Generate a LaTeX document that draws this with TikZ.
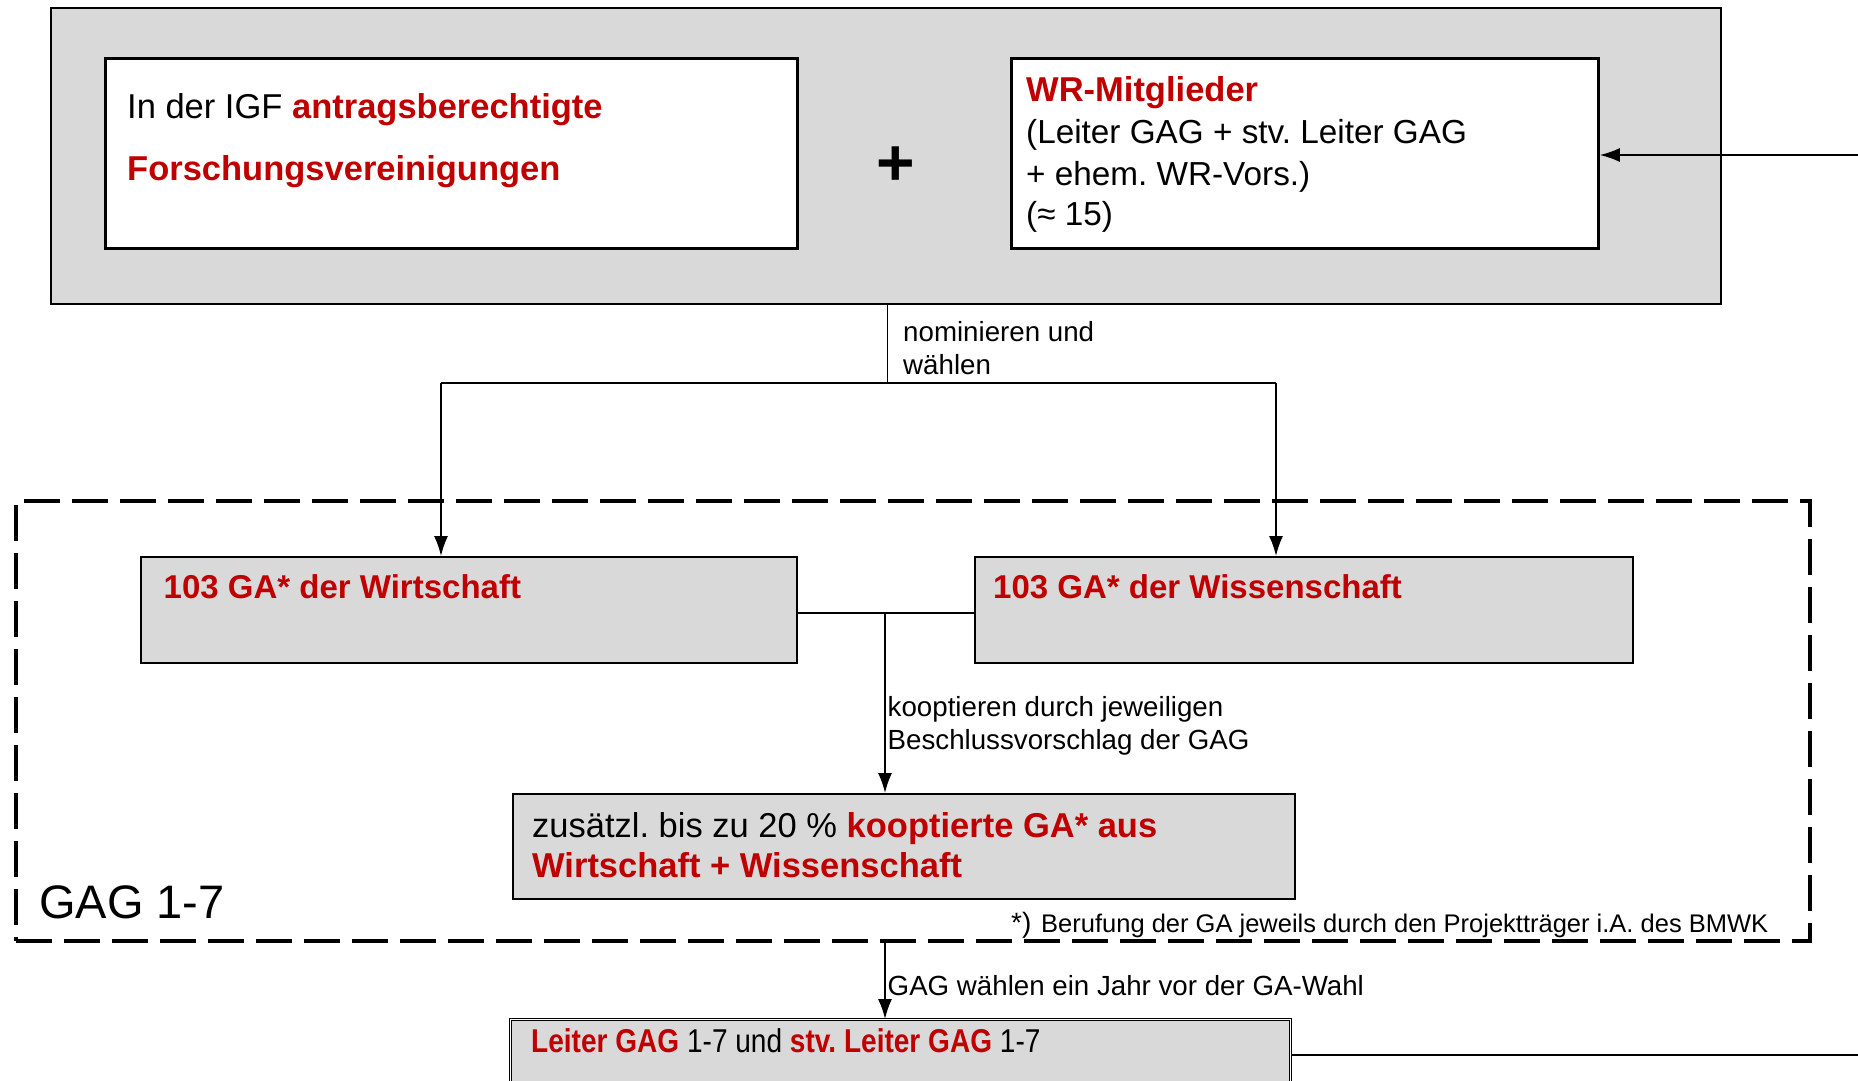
\documentclass[tikz,border=0pt]{standalone}
\usepackage{fontspec}
\setmainfont{Liberation Sans}
\usetikzlibrary{arrows.meta}
\definecolor{dred}{HTML}{C00000}
\definecolor{boxgray}{HTML}{D9D9D9}
\newcommand\fsz[1]{\fontsize{#1}{#1}\selectfont}
\newcommand\rb[1]{\textbf{\color{dred}#1}}
\frenchspacing
\begin{document}
\begin{tikzpicture}[x=1pt,y=-1pt,
  graybox/.style={draw, fill=boxgray, line width=2pt, inner sep=0pt, anchor=north west},
  whitebox/.style={draw, fill=white, line width=2.8pt, inner sep=0pt, anchor=north west},
  txt/.style={anchor=base west, inner sep=0pt, font=\fsz{34.5}},
  lbl/.style={anchor=base west, inner sep=0pt, font=\fsz{27.7}},
  conn/.style={line width=1.6pt},
  arr/.style={conn, -{Latex[length=20pt,width=14pt]}},
]
\useasboundingbox (0,0) rectangle (1858,1081);
\clip (0,0) rectangle (1858,1081);

% top group
\node[graybox, minimum width=1670pt, minimum height=296pt] (outer) at (50,7) {};
\node[whitebox, minimum width=692pt, minimum height=190pt] (igf) at (104,57) {};
\node[whitebox, minimum width=587pt, minimum height=190pt] (wr) at (1010,57) {};
\node[font=\fsz{66}\bfseries, inner sep=0pt] (plus) at (895.5,166) {+};

\node[txt] (igf1) at (127,118) {In der IGF \rb{antragsberechtigte}};
\node[txt] (igf2) at (127,180) {\rb{Forschungsvereinigungen}};
\node[txt] (wr1) at (1026,102) {\rb{WR-Mitglieder}};
\node[txt, font=\fsz{33.3}] (wr2) at (1026,143.5) {(Leiter GAG + stv. Leiter GAG};
\node[txt, font=\fsz{33.3}] (wr3) at (1026,185) {+ ehem. WR-Vors.)};
\node[txt, font=\fsz{33.3}] (wr4) at (1026,225) {(≈ 15)};

\coordinate (rin) at (1858,155);
\draw[arr] (rin) -- (rin -| wr.east);

% dashed GAG frame
\node[draw, dash pattern=on 36pt off 12pt, line width=4pt, inner sep=0pt, anchor=north west,
      minimum width=1794pt, minimum height=440pt] (gag) at (14,499) {};

% GA boxes
\node[graybox, minimum width=656pt, minimum height=106pt] (gaw) at (140,556) {};
\node[graybox, minimum width=658pt, minimum height=106pt] (gas) at (974,556) {};
\node[txt, font=\fsz{33}] (gaw1) at (163.5,598) {\rb{103 GA* der Wirtschaft}};
\node[txt, font=\fsz{33}] (gas1) at (993,598) {\rb{103 GA* der Wissenschaft}};

% nominate connectors
\coordinate (split) at (887.5,383);
\coordinate (jl) at (441,383);
\coordinate (jr) at (1276,383);
\draw[conn] (split |- outer.south) -- (split);
\draw[conn] (jl) -- (jr);
\draw[arr] (jl) -- (jl |- gaw.north);
\draw[arr] (jr) -- (jr |- gas.north);
\node[lbl] (nom1) at (903,341) {nominieren und};
\node[lbl] (nom2) at (903,374) {wählen};

% kooptiert
\node[graybox, minimum width=782pt, minimum height=105pt] (koop) at (512,793) {};
\coordinate (mid) at (885,613);
\draw[line width=2pt] (gaw.east |- mid) -- (gas.west |- mid);
\draw[arr] (mid) -- (mid |- koop.north);
\node[lbl] (koo1) at (887.5,716) {kooptieren durch jeweiligen};
\node[lbl] (koo2) at (887.5,749) {Beschlussvorschlag der GAG};
\node[txt] (koop1) at (532,837) {zusätzl. bis zu 20 \% \rb{kooptierte GA* aus}};
\node[txt] (koop2) at (532,877) {\rb{Wirtschaft + Wissenschaft}};

\node[anchor=base west, inner sep=0pt, font=\fsz{47}] (gagt) at (39,918) {GAG 1-7};
\node[anchor=base west, inner sep=0pt, font=\fsz{28}] (fnstar) at (1011,932) {*)};
\node[anchor=base west, inner sep=0pt, font=\fsz{25.5}] (fn) at (1041,932) {Berufung der GA jeweils durch den Projektträger i.A. des BMWK};

% leaders
\node[draw, fill=boxgray, double, double distance=1.5pt, line width=1pt, inner sep=0pt, anchor=north west,
      minimum width=780pt, minimum height=100pt] (lead) at (510,1019) {};
\draw[arr] (mid |- gag.south) -- (mid |- lead.north);
\node[lbl] (wahl) at (887.5,995) {GAG wählen ein Jahr vor der GA-Wahl};
\node[anchor=base west, inner sep=0pt, font=\fsz{33}] (lead1) at (531,1052)
  {\scalebox{0.85}[1]{\rb{Leiter GAG} 1-7 und \rb{stv. Leiter GAG} 1-7}};
\coordinate (rout) at (1858,1055);
\draw[line width=2pt] (lead.east |- rout) -- (rout);
\end{tikzpicture}
\end{document}
